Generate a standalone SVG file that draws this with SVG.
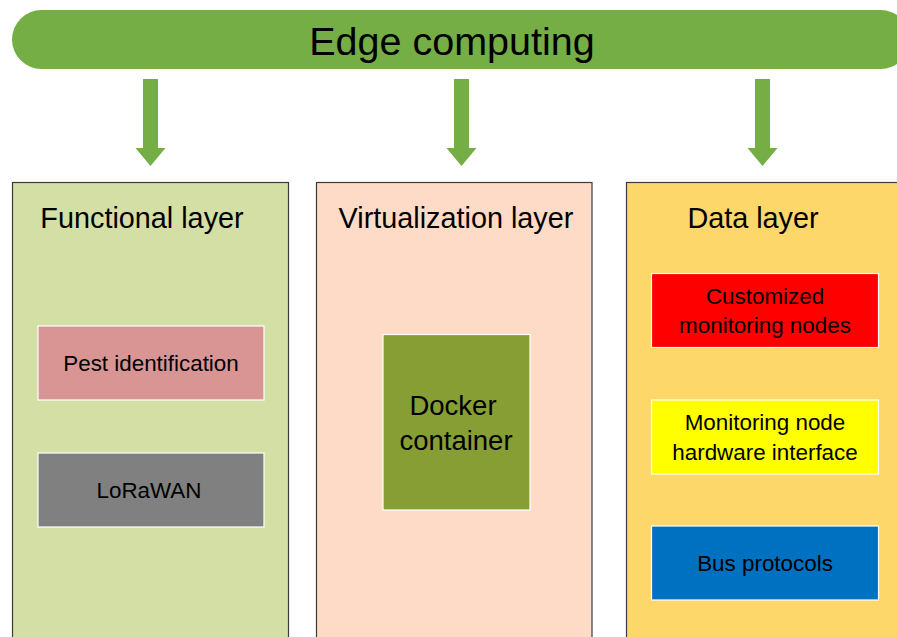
<svg xmlns="http://www.w3.org/2000/svg" width="897" height="637" viewBox="0 0 897 637">
<defs>
<style>
text{font-family:"Liberation Sans",Arial,sans-serif;fill:#000;text-anchor:middle}
.col{stroke:#3a3a3a;stroke-width:1.2}
.box{stroke:#ffffff;stroke-width:1.2}
.title{font-size:28.8px}
.inner{font-size:22.4px}
.arrow{fill:#74AE44}
</style>
</defs>
<rect width="897" height="637" fill="#ffffff"/>
<g id="edge">
<rect x="12" y="10" width="898" height="59" rx="29.5" fill="#74AE44"/>
<text x="452" y="55" style="font-size:39.5px">Edge computing</text>
</g>
<g id="connectors">
<polygon class="arrow" points="143,79 158,79 158,148 165.5,148 150.5,166 135.5,148 143,148"/>
<polygon class="arrow" points="454,79 469,79 469,148 476.5,148 461.5,166 446.5,148 454,148"/>
<polygon class="arrow" points="755,79 770,79 770,148 777.5,148 762.5,166 747.5,148 755,148"/>
</g>
<g id="functional">
<rect class="col" x="12.5" y="182.5" width="276" height="470" fill="#D3DFA4"/>
<text class="title" x="142" y="228">Functional layer</text>
</g>
<g id="pest">
<rect class="box" x="38" y="326" width="226" height="74" fill="#D99594"/>
<text class="inner" x="151" y="371">Pest identification</text>
</g>
<g id="lorawan">
<rect class="box" x="38" y="453" width="226" height="74" fill="#808080"/>
<text class="inner" x="149" y="498">LoRaWAN</text>
</g>
<g id="virtualization">
<rect class="col" x="316.5" y="182.5" width="275.5" height="470" fill="#FDDBC7"/>
<text class="title" x="456" y="228">Virtualization layer</text>
</g>
<g id="docker">
<rect class="box" x="383" y="334.5" width="147" height="175.5" fill="#879E34"/>
<text x="453" y="415" style="font-size:27.5px">Docker</text>
<text x="456" y="450" style="font-size:27.5px">container</text>
</g>
<g id="data">
<rect class="col" x="626.5" y="182.5" width="290" height="470" fill="#FDD769"/>
<text class="title" x="753" y="228">Data layer</text>
</g>
<g id="customized">
<rect class="box" x="651.5" y="273.5" width="227" height="74" fill="#FF0000"/>
<text class="inner" x="765" y="304">Customized</text>
<text class="inner" x="765" y="333">monitoring nodes</text>
</g>
<g id="hardware">
<rect class="box" x="651.5" y="400" width="227" height="74" fill="#FFFF00"/>
<text class="inner" x="765" y="430">Monitoring node</text>
<text class="inner" x="765" y="460">hardware interface</text>
</g>
<g id="bus">
<rect class="box" x="651.5" y="526" width="227" height="74" fill="#0070C0"/>
<text class="inner" x="765" y="571">Bus protocols</text>
</g>
</svg>
